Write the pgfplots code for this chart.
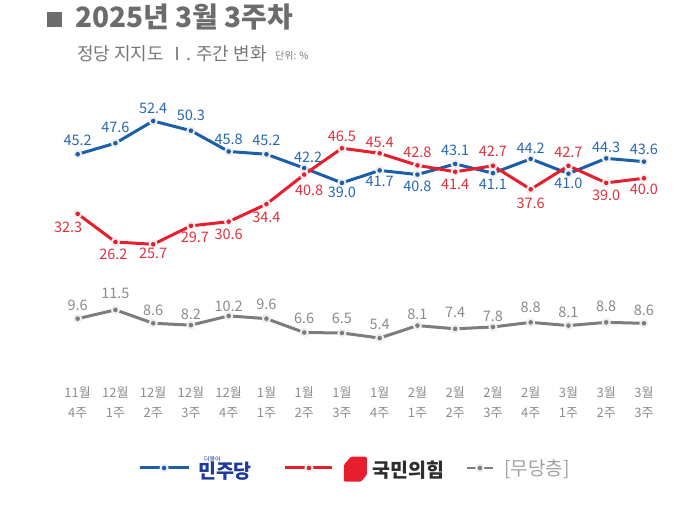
\documentclass[border=0pt]{standalone}
\usepackage{fontspec}
\setmainfont{Noto Sans CJK KR}
\usepackage{pgfplots}
\pgfplotsset{compat=1.18}
\usepackage{pgfplotstable}

\definecolor{mjblue}{RGB}{28,94,168}
\definecolor{mjtext}{RGB}{40,104,178}
\definecolor{mjnavy}{RGB}{30,58,154}
\definecolor{pred}{RGB}{230,30,45}
\definecolor{ptext}{RGB}{224,48,60}
\definecolor{pdark}{RGB}{45,45,45}
\definecolor{gline}{RGB}{125,125,125}
\definecolor{gtext}{RGB}{138,138,138}
\definecolor{gleg}{RGB}{160,160,160}
\definecolor{halo}{RGB}{238,238,238}
\definecolor{tickgray}{RGB}{140,140,140}
\definecolor{titlegray}{RGB}{108,108,108}
\definecolor{subgray}{RGB}{120,120,120}

\pgfdeclareplotmark{halo}{%
  \begin{pgfscope}\pgfsetfillcolor{halo}\pgfpathcircle{\pgfpointorigin}{4.6pt}\pgfusepathqfill\end{pgfscope}%
  \pgfpathcircle{\pgfpointorigin}{2.3pt}\pgfusepathqfill}

\pgfplotsset{
  legblue/.style={legend image code/.code={\draw[mark repeat=2,mark phase=2,##1] plot coordinates {(0pt,0pt) (24.5pt,0pt) (49pt,0pt)};}},
  legred/.style={legend image code/.code={\draw[mark repeat=2,mark phase=2,##1] plot coordinates {(0pt,0pt) (23.5pt,0pt) (47pt,0pt)};}},
  leggray/.style={legend image code/.code={\draw[mark repeat=2,mark phase=2,##1,line width=2.5pt] plot coordinates {(0pt,0pt) (13pt,0pt) (26pt,0pt)};}},
  labelplot/.style={draw=none, mark=none, forget plot, point meta=explicit,
    visualization depends on={\thisrow{dx}\as\dx},
    visualization depends on={\thisrow{dy}\as\dy},
    nodes near coords={\pgfmathprintnumber[fixed,fixed zerofill,precision=1]{\pgfplotspointmeta}},
    nodes near coords style={anchor=center, inner sep=0pt, text=#1, font=\fontsize{14.5}{14.5}\selectfont, xshift=\dx pt, yshift=\dy pt}},
}

\pgfplotstableread{
x y dx dy
0 45.2 0 14
1 47.6 0 15.5
2 52.4 0 12.5
3 50.3 0 15.5
4 45.8 0 12
5 45.2 0 14
6 42.2 4 11
7 39.0 0 -9
8 41.7 0 -11
9 40.8 0 -12
10 43.1 0 13.5
11 41.1 0 -11
12 44.2 0 11
13 41.0 0 -9.5
14 44.3 0 11.5
15 43.6 0 12.5
}\blue

\pgfplotstableread{
x y dx dy
0 32.3 -9.5 -13.5
1 26.2 -2 -12
2 25.7 0 -9
3 29.7 4 -11
4 30.6 0 -12.5
5 34.4 0 -13.5
6 40.8 5 -16
7 46.5 0 12
8 45.4 0 11
9 42.8 0 13
10 41.4 0 -13
11 42.7 0 14
12 37.6 0 -14
13 42.7 0 13
14 39.0 0 -12
15 40.0 0 -11
}\red

\pgfplotstableread{
x y dx dy
0 9.6 0 13.7
1 11.5 0 16
2 8.6 0 13.3
3 8.2 0 10.5
4 10.2 0 9.8
5 9.6 0 14.3
6 6.6 0 14.3
7 6.5 0 14.3
8 5.4 0 14
9 8.1 0 11.7
10 7.4 0 16.7
11 7.8 0 11
12 8.8 0 15
13 8.1 0 13.7
14 8.8 0 16
15 8.6 0 13.3
}\gray

\newcommand{\pprlogo}{\tikz[x=1pt,y=1pt,baseline=4pt]\fill[pred, rounded corners=1.2pt] (0,0) -- (0,17) -- (7,25) -- (23,25) -- (23,7) -- (17,0) -- cycle;}

\begin{document}
\begin{tikzpicture}
\begin{axis}[
  scale only axis, width=700pt, height=519pt,
  xmin=-2.058, xmax=16.485, ymin=-33.78, ymax=78.60,
  axis line style={draw=none}, tick style={draw=none}, major tick length=0pt,
  ytick=\empty,
  xtick={0,...,15},
  xticklabels={{11월\\4주},{12월\\1주},{12월\\2주},{12월\\3주},{12월\\4주},{1월\\1주},{1월\\2주},{1월\\3주},{1월\\4주},{2월\\1주},{2월\\2주},{2월\\3주},{2월\\4주},{3월\\1주},{3월\\2주},{3월\\3주}},
  xticklabel style={anchor=center, yshift=116pt, align=center, text=tickgray, font=\fontsize{13}{20}\selectfont, inner sep=0pt},
  clip=false,
  /pgf/number format/assume math mode=true,
  legend columns=3,
  legend style={at={(rel axis cs:0.197,0.0983)}, anchor=west, draw=none, fill=none, inner sep=0pt, column sep=0pt, cells={anchor=west}},
]
\addplot[mjblue, line width=3pt, mark=halo, legblue] table[x=x,y=y]{\blue};
\addlegendentry{\hspace{6pt}\makebox[0pt][l]{\raisebox{17pt}{\hspace{6pt}\color{mjnavy}\fontsize{6}{6}\selectfont 더불어}}{\color{mjnavy}\fontsize{19.5}{19.5}\selectfont\bfseries 민주당}\hspace{30pt}\mbox{}}
\addplot[pred, line width=3pt, mark=halo, legred] table[x=x,y=y]{\red};
\addlegendentry{\hspace{8pt}\pprlogo\hspace{6pt}{\color{pdark}\fontsize{19.5}{19.5}\selectfont\bfseries 국민의힘}\hspace{19pt}\mbox{}}
\addplot[gline, line width=3pt, mark=halo, leggray] table[x=x,y=y]{\gray};
\addlegendentry{\hspace{8pt}{\color{gleg}\fontsize{19}{19}\selectfont [무당층]}}

\addplot[labelplot=mjtext] table[x=x,y=y,meta=y]{\blue};
\addplot[labelplot=ptext] table[x=x,y=y,meta=y]{\red};
\addplot[labelplot=gtext] table[x=x,y=y,meta=y]{\gray};

\fill[titlegray] (rel axis cs:0.0671,0.9769) rectangle (rel axis cs:0.0886,0.9480);
\node[anchor=base west, inner sep=0pt, text=titlegray, font=\fontsize{28}{28}\selectfont\bfseries] at (rel axis cs:0.1071,0.9461) {2025년 3월 3주차};
\node[anchor=base west, inner sep=0pt, text=subgray, font=\fontsize{18}{18}\selectfont] at (rel axis cs:0.11,0.8825) {정당 지지도 Ⅰ. 주간 변화};
\node[anchor=base west, inner sep=0pt, text=subgray, font=\fontsize{10}{10}\selectfont] at (rel axis cs:0.3929,0.8844) {단위: \%};
\end{axis}
\end{tikzpicture}
\end{document}
